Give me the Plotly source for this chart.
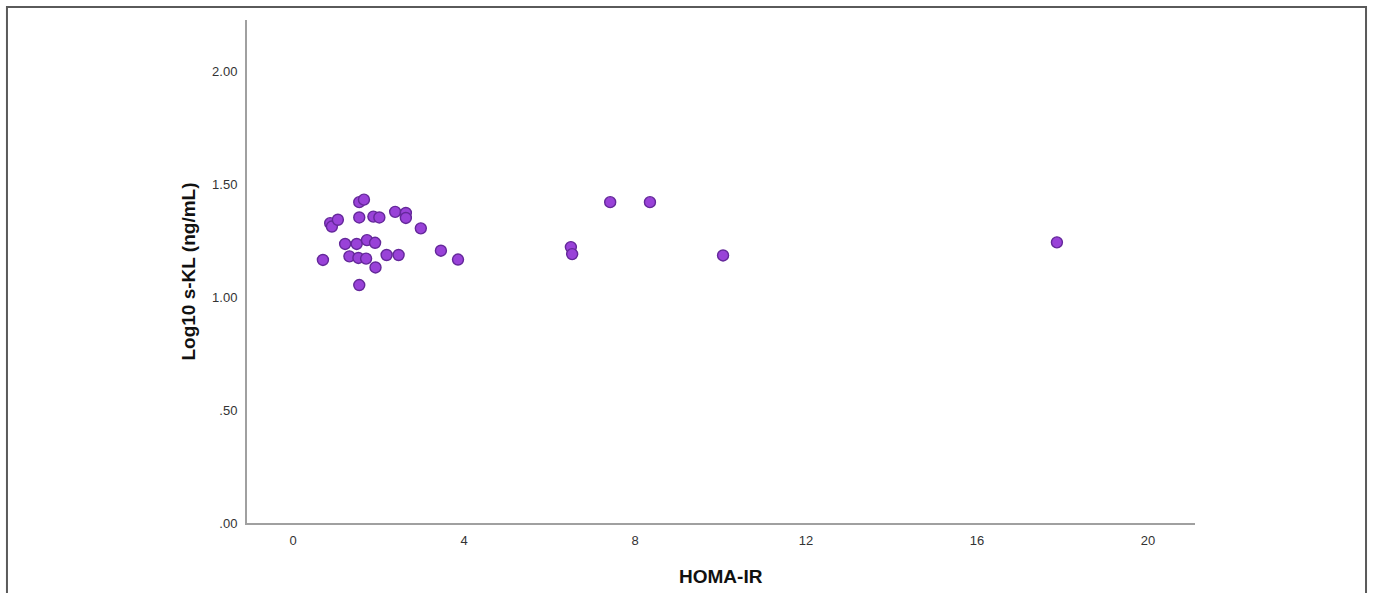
import plotly.graph_objects as go

# HOMA-IR (x) vs Log10 s-KL (y)
homa_ir = [0.70, 0.87, 0.91, 1.05, 1.22, 1.32, 1.49, 1.53, 1.55, 1.66, 1.55, 1.55,
           1.71, 1.73, 1.88, 1.92, 2.02, 1.93, 2.19, 2.39, 2.47, 2.64, 2.64, 2.99,
           3.46, 3.86, 6.50, 6.53, 7.42, 8.35, 10.06, 17.87]
log_skl = [1.164, 1.327, 1.312, 1.342, 1.235, 1.180, 1.235, 1.173, 1.420, 1.431, 1.352, 1.053,
           1.170, 1.252, 1.356, 1.240, 1.352, 1.131, 1.186, 1.377, 1.186, 1.372, 1.350, 1.304,
           1.205, 1.166, 1.221, 1.190, 1.420, 1.420, 1.184, 1.242]

x_ticks = [0, 4, 8, 12, 16, 20]
y_ticks = [0, 0.5, 1.0, 1.5, 2.0]
y_ticktext = [".00", ".50", "1.00", "1.50", "2.00"]

FONT = "Liberation Sans, Arial, sans-serif"
NARROW = "Liberation Sans Narrow, Arial Narrow, Liberation Sans, sans-serif"

fig = go.Figure()
fig.add_trace(go.Scatter(
    x=homa_ir, y=log_skl, mode="markers",
    marker=dict(size=11, color="#9942d8", line=dict(color="#64289a", width=1.4)),
    showlegend=False, hoverinfo="x+y",
))

fig.update_layout(
    width=1373, height=593,
    margin=dict(l=247, r=178, t=20, b=70),
    paper_bgcolor="white", plot_bgcolor="white",
    font=dict(family=FONT, color="#333333", size=12),
    xaxis=dict(range=[-1.076, 21.1], tickvals=x_ticks, showgrid=False, zeroline=False,
               showline=True, linecolor="#a0a0a0", linewidth=2, ticks="",
               tickfont=dict(size=13, color="#333333", family=NARROW), ticklabelstandoff=4),
    yaxis=dict(range=[0, 2.226], tickvals=y_ticks, ticktext=y_ticktext, showgrid=False,
               zeroline=False, showline=True, linecolor="#a0a0a0", linewidth=2, ticks="",
               tickfont=dict(size=13, color="#333333"), ticklabelstandoff=5),
    annotations=[
        dict(text="<b>HOMA-IR</b>", xref="paper", yref="paper", x=0.5, y=-0.106,
             showarrow=False, font=dict(size=19, color="#111111", family=NARROW),
             xanchor="center", yanchor="middle"),
        dict(text="<b>Log10 s-KL (ng/mL)</b>", xref="paper", yref="paper",
             x=-0.0622, y=0.5, textangle=-90, showarrow=False,
             font=dict(size=19, color="#111111", family=FONT),
             xanchor="center", yanchor="middle"),
    ],
    shapes=[
        dict(type="path", xref="paper", yref="paper",
             path="M -0.2532 -0.2 L -0.2532 1.0258 L 1.1804 1.0258 L 1.1804 -0.2",
             line=dict(color="#5a5a5a", width=2)),
    ],
)

fig.write_html("out.html")
